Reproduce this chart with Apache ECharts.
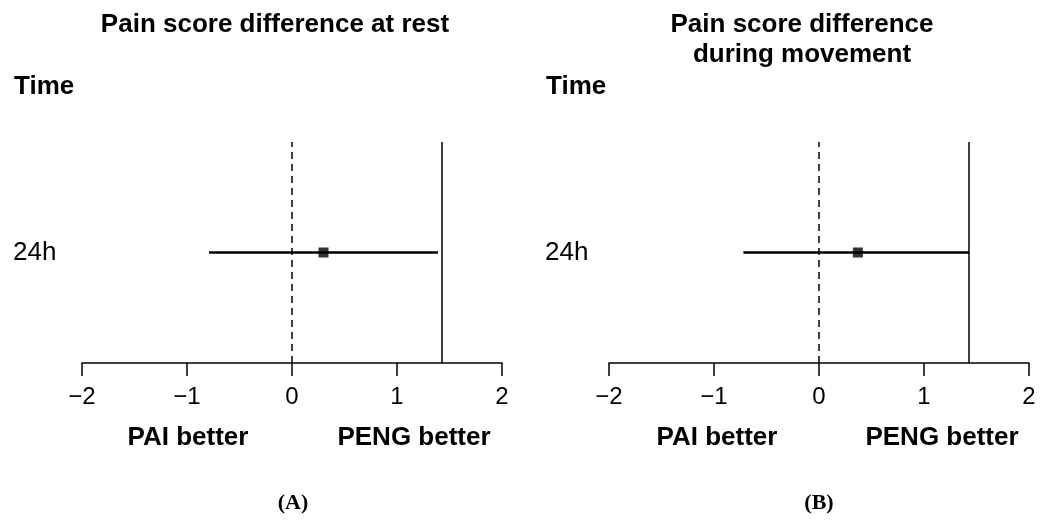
<!DOCTYPE html>
<html>
<head>
<meta charset="utf-8">
<script src="https://cdn.jsdelivr.net/npm/echarts@6/dist/echarts.min.js"></script>
<style>
  html, body { margin: 0; padding: 0; background: #fff; }
  #chart { width: 1050px; height: 525px; }
</style>
</head>
<body>
<div id="chart"></div>
<script>
// Forest plot of pain score differences (PAI vs PENG), two panels.
const timepoints = ["24h"]
const xTicks = [-2, -1, 0, 1, 2]

// panel A: at rest
const restEstimate = [0.30]
const restLower = [-0.79]
const restUpper = [1.39]

// panel B: during movement
const moveEstimate = [0.37]
const moveLower = [-0.72]
const moveUpper = [1.43]

// reference lines (no-effect line and the solid boundary line)
const nullLine = 0
const boundLine = 1.43

const FONT = "Liberation Sans, Arial, Helvetica, sans-serif"
const SERIF = "Liberation Serif, Times New Roman, serif"

const panels = [
  { est: restEstimate, lo: restLower, hi: restUpper, left: 82, labelMargin: 69 },
  { est: moveEstimate, lo: moveLower, hi: moveUpper, left: 609, labelMargin: 64 },
]

const grids = panels.map(p => ({ left: p.left, width: 420, top: 142, height: 221 }))

const xAxes = panels.map((p, i) => ({
  type: "value",
  gridIndex: i,
  min: xTicks[0],
  max: xTicks[xTicks.length - 1],
  interval: 1,
  splitLine: { show: false },
  axisLine: { show: true, onZero: false, lineStyle: { color: "#000", width: 1.5 } },
  axisTick: { show: true, length: 13, lineStyle: { color: "#000", width: 1.5 } },
  axisLabel: {
    color: "#000", fontSize: 24, fontFamily: FONT, margin: 22,
    formatter: v => String(v).replace("-", "\u2212"),
  },
}))

const yAxes = panels.map((p, i) => ({
  type: "category",
  gridIndex: i,
  data: timepoints,
  axisLine: { show: false },
  axisTick: { show: false },
  splitLine: { show: false },
  axisLabel: { color: "#000", fontSize: 26, fontFamily: FONT, align: "left", margin: p.labelMargin },
}))

const series = []
panels.forEach((p, i) => {
  timepoints.forEach((t, k) => {
    series.push({
      type: "line",
      xAxisIndex: i, yAxisIndex: i,
      data: [[p.lo[k], t], [p.hi[k], t]],
      symbol: "none",
      lineStyle: { color: "#000", width: 2.5 },
      markLine: k > 0 ? undefined : {
        silent: true,
        symbol: "none",
        label: { show: false },
        data: [
          { xAxis: nullLine, lineStyle: { color: "#000", width: 1.5, type: [7, 5] } },
          { xAxis: boundLine, lineStyle: { color: "#000", width: 1.5, type: "solid" } },
        ],
      },
    })
  })
  series.push({
    type: "scatter",
    xAxisIndex: i, yAxisIndex: i,
    data: timepoints.map((t, k) => [p.est[k], t]),
    symbol: "rect",
    symbolSize: 10,
    itemStyle: { color: "#000" },
  })
})

const bold = { color: "#000", fontSize: 26, fontWeight: "bold", fontFamily: FONT, lineHeight: 30 }
const tag = {
  color: "#000", fontSize: 22, fontFamily: SERIF,
  rich: { b: { fontSize: 22, fontWeight: "bold", fontFamily: SERIF } },
}

const titles = [
  { text: "Pain score difference at rest", left: 275, top: 10, textAlign: "center", textStyle: bold },
  { text: "Pain score difference\nduring movement", left: 802, top: 10, textAlign: "center", textStyle: bold },
  { text: "Time", left: 14, top: 72, textStyle: bold },
  { text: "Time", left: 546, top: 72, textStyle: bold },
  { text: "PAI better", left: 188, top: 423, textAlign: "center", textStyle: bold },
  { text: "PENG better", left: 414, top: 423, textAlign: "center", textStyle: bold },
  { text: "PAI better", left: 717, top: 423, textAlign: "center", textStyle: bold },
  { text: "PENG better", left: 942, top: 423, textAlign: "center", textStyle: bold },
  { text: "({b|A})", left: 293, top: 492, textAlign: "center", textStyle: tag },
  { text: "({b|B})", left: 819, top: 492, textAlign: "center", textStyle: tag },
].map(t => Object.assign({ padding: 0 }, t))

const chart = echarts.init(document.getElementById("chart"), null, { renderer: "canvas" })
chart.setOption({
  animation: false,
  backgroundColor: "#fff",
  title: titles,
  grid: grids,
  xAxis: xAxes,
  yAxis: yAxes,
  series: series,
})
</script>
</body>
</html>
